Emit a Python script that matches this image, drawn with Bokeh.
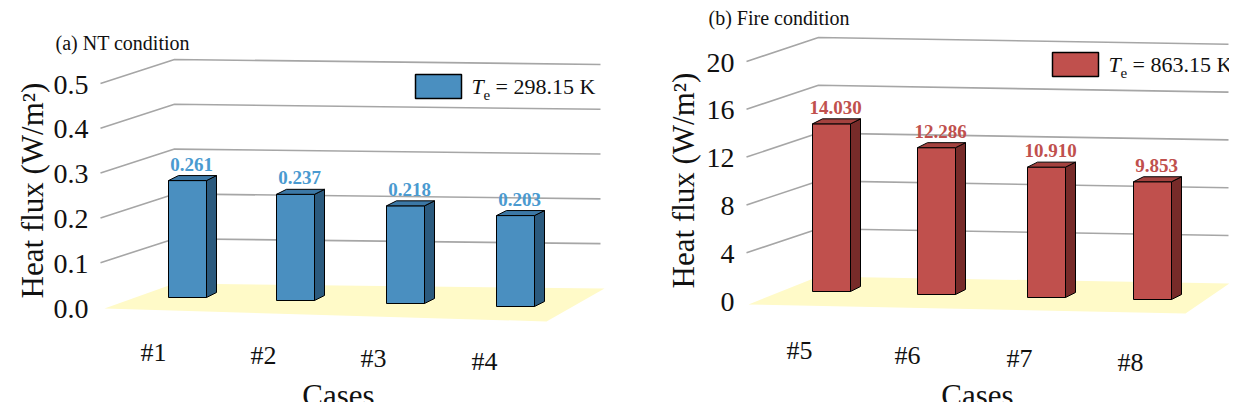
from bokeh.plotting import figure
from bokeh.models import Range1d
from bokeh.core.properties import value
from bokeh.embed import file_html
from bokeh.resources import INLINE

# ---- data ----
cases_a = ["#1", "#2", "#3", "#4"]
flux_a = [0.261, 0.237, 0.218, 0.203]
labels_a = ["0.261", "0.237", "0.218", "0.203"]
ticks_a = [0.0, 0.1, 0.2, 0.3, 0.4, 0.5]
ticklabels_a = ["0.0", "0.1", "0.2", "0.3", "0.4", "0.5"]
title_a = "(a) NT condition"
legend_a = "= 298.15 K"

cases_b = ["#5", "#6", "#7", "#8"]
flux_b = [14.030, 12.286, 10.910, 9.853]
labels_b = ["14.030", "12.286", "10.910", "9.853"]
ticks_b = [0, 4, 8, 12, 16, 20]
ticklabels_b = ["0", "4", "8", "12", "16", "20"]
title_b = "(b) Fire condition"
legend_b = "= 863.15 K"

SERIF = value("Liberation Serif")
W, H = 1229, 402
p = figure(width=W, height=H, x_range=Range1d(0, W), y_range=Range1d(H, 0),
           output_backend="svg", toolbar_location=None, min_border=0)
p.axis.visible = False
p.grid.visible = False
p.outline_line_color = None


def panel(cases, vals, labs, ticks, tlabs, title, leg, g):
    xbl, xbr, back0, bslope, scale, dx, dy = g["xbl"], g["xbr"], g["back0"], g["bslope"], g["scale"], g["dx"], g["dy"]

    def yb(v, x):
        return back0 + (x - xbl) * bslope - v * scale

    fl = g["floor"]
    p.patch([q[0] for q in fl], [q[1] for q in fl], fill_color="#fffac8", line_color=None)
    for t, tl in zip(ticks, tlabs):
        yl = yb(t, xbl)
        if t != ticks[0]:
            p.line([xbl - dx, xbl, xbr], [yl + dy, yl, yb(t, xbr)], line_color="#a6a6a6", line_width=1.6)
        p.text([xbl - dx - 12], [yl + dy + 1], text=[tl], text_font=SERIF, text_font_size="28px",
               text_align="right", text_baseline="middle", text_color="#111111")
    w, ddx, ddy = 38, 10, -5
    for i, (c, v, lb) in enumerate(zip(cases, vals, labs)):
        cx = g["centers"][i]
        yb0 = g["bottoms"][i]
        yt = yb0 - v * scale
        xl, xr = cx - w / 2, cx + w / 2
        p.patch([xl, xr, xr, xl], [yb0, yb0, yt, yt], fill_color=g["face"], line_color="black", line_width=1)
        p.patch([xr, xr + ddx, xr + ddx, xr], [yb0, yb0 + ddy, yt + ddy, yt], fill_color=g["side"], line_color="black", line_width=1)
        p.patch([xl, xr, xr + ddx, xl + ddx], [yt, yt, yt + ddy, yt + ddy], fill_color=g["top"], line_color="black", line_width=1)
        p.text([cx + 4], [yt - 10], text=[lb], text_font=SERIF, text_font_size="19px", text_font_style="bold",
               text_color=g["lab"], text_align="center", text_baseline="bottom")
        p.text([g["catx"][i]], [g["caty"][i]], text=[c], text_font=SERIF, text_font_size="26px",
               text_align="center", text_baseline="middle", text_color="#111111")
    p.text([g["tx"]], [g["ty"]], text=[title], text_font=SERIF, text_font_size="20px",
           text_baseline="middle", text_color="#111111")
    p.text([g["casesx"]], [395], text=["Cases"], text_font=SERIF, text_font_size="31px",
           text_align="center", text_baseline="middle", text_color="#111111")
    p.text([g["ytx"]], [g["yty"]], text=["Heat flux (W/m²)"], text_font=SERIF, text_font_size="31px",
           text_align="center", text_baseline="middle", angle=1.5708, text_color="#111111")
    lx, ly = g["leg"]
    p.patch([lx, lx + 46, lx + 46, lx], [ly - 12, ly - 12, ly + 12, ly + 12], fill_color=g["face"],
            line_color="black", line_width=1.5)
    p.text([lx + 56], [ly], text=["T"], text_font=SERIF, text_font_size="22px", text_font_style="italic",
           text_baseline="middle", text_color="#111111")
    p.text([lx + 68], [ly + 8], text=["e"], text_font=SERIF, text_font_size="15px",
           text_baseline="middle", text_color="#111111")
    p.text([lx + 80], [ly], text=[leg], text_font=SERIF, text_font_size="22px",
           text_baseline="middle", text_color="#111111")


panel(cases_a, flux_a, labels_a, ticks_a, ticklabels_a, title_a, legend_a, dict(
    xbl=174, xbr=600, back0=283, bslope=5 / 430, scale=448, dx=74, dy=24,
    floor=[(104, 308), (546, 321), (604, 288), (174, 283)],
    centers=[187, 295, 405, 515], bottoms=[297, 300, 303, 306],
    face="#4a8fc0", side="#2b5a7e", top="#3c78a6", lab="#4a9ad0",
    catx=[153, 263, 373, 484], caty=[352, 355, 358, 361],
    tx=55, ty=42, casesx=338, ytx=32, yty=190, leg=(415, 86)))

panel(cases_b, flux_b, labels_b, ticks_b, ticklabels_b, title_b, legend_b, dict(
    xbl=818, xbr=1228, back0=276, bslope=7 / 422, scale=11.95, dx=72, dy=24,
    floor=[(748, 304), (1185, 313), (1229, 283), (818, 276)],
    centers=[831, 936, 1046, 1152], bottoms=[291, 294, 297, 299],
    face="#c0504d", side="#772b29", top="#a4423f", lab="#c0504d",
    catx=[799, 907, 1019, 1130], caty=[350, 355, 358, 362],
    tx=708, ty=17, casesx=977, ytx=683, yty=180, leg=(1052, 64)))

open("out.html", "w").write(file_html(p, INLINE))
